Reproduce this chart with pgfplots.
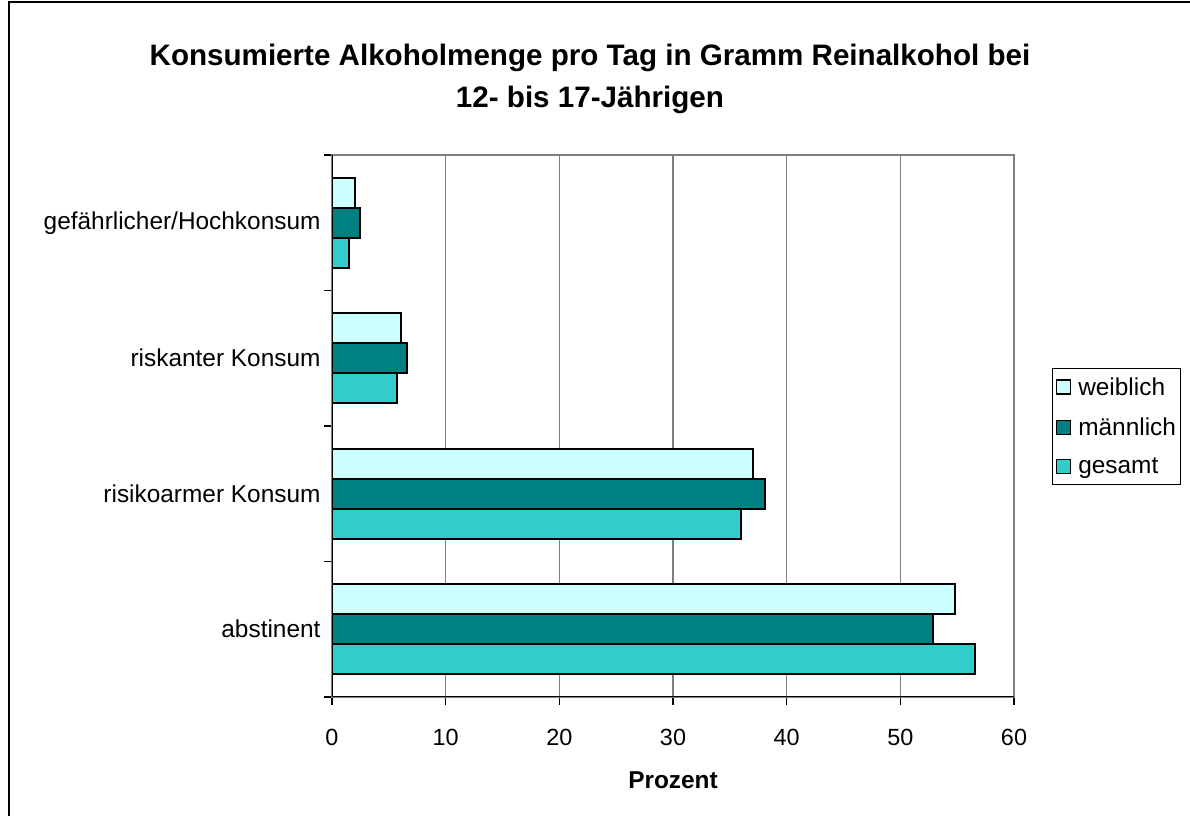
\documentclass[border=0pt]{standalone}
\usepackage{pgfplots}
\pgfplotsset{compat=1.18}
\usepackage{fontspec}
\setmainfont{Liberation Sans}

\definecolor{weiblich}{HTML}{CCFFFF}
\definecolor{maennlich}{HTML}{008080}
\definecolor{gesamt}{HTML}{33CCCC}
\definecolor{gridgray}{HTML}{808080}

\begin{document}
\begin{tikzpicture}[x=1bp,y=1bp]
\path[use as bounding box] (0,0) rectangle (1190,816);
\draw[line width=2.5bp] (9,-10) -- (9,814) -- (1200,814);

\node[font=\bfseries\fontsize{29.7}{43}\selectfont, align=center] at (590,737)
  {Konsumierte Alkoholmenge pro Tag in Gramm Reinalkohol bei\\12- bis 17-Jährigen};

\begin{axis}[
    at={(332bp,119bp)}, anchor=south west,
    scale only axis,
    width=682bp, height=542bp,
    xbar,
    bar width=30bp,
    xmin=0, xmax=60,
    ymin=-0.5, ymax=3.5,
    xtick={0,10,...,60},
    ytick={-0.5,0.5,1.5,2.5,3.5},
    yticklabels={},
    extra y ticks={0,1,2,3},
    extra y tick labels={abstinent,risikoarmer Konsum,riskanter Konsum,gefährlicher/Hochkonsum},
    extra y tick style={major tick length=0pt, grid=none},
    tick align=outside,
    major tick length=8bp,
    xtick pos=bottom, ytick pos=left,
    xmajorgrids=true,
    grid style={gridgray, line width=1.5bp},
    axis line style={gridgray, line width=1.5bp},
    tick style={black, line width=1.2bp},
    xticklabel style={font=\fontsize{23.5}{26}\selectfont, yshift=-21bp},
    yticklabel style={font=\fontsize{24.5}{26}\selectfont, xshift=-8bp},
    /pgf/number format/assume math mode=true,
    xlabel={\bfseries Prozent},
    xlabel style={font=\fontsize{24.5}{26}\selectfont, at={(axis description cs:0.5,0)}, anchor=center, yshift=-83bp},
    legend style={at={(rel axis cs:1.056,0.607)}, anchor=north west,
        draw=black, line width=1bp, font=\fontsize{24.5}{26}\selectfont,
        row sep=17bp, inner xsep=3bp, inner ysep=7bp},
    legend cell align=left,
    legend image code/.code={\draw[#1, line width=1.2bp] (0bp,-7bp) rectangle (14bp,7bp); \path (19bp,0bp);},
]
\addplot[fill=weiblich, draw=black, line width=2bp, bar shift=30bp]
  coordinates {(54.8,0) (37.0,1) (6.1,2) (2.0,3)};
\addplot[fill=maennlich, draw=black, line width=2bp, bar shift=0bp]
  coordinates {(52.9,0) (38.1,1) (6.6,2) (2.5,3)};
\addplot[fill=gesamt, draw=black, line width=2bp, bar shift=-30bp]
  coordinates {(56.6,0) (36.0,1) (5.7,2) (1.5,3)};
\legend{weiblich,männlich,gesamt}
\draw[black, line width=1.8bp] (rel axis cs:0,1) -- (rel axis cs:0,0) -- (rel axis cs:1,0);
\end{axis}
\end{tikzpicture}
\end{document}
